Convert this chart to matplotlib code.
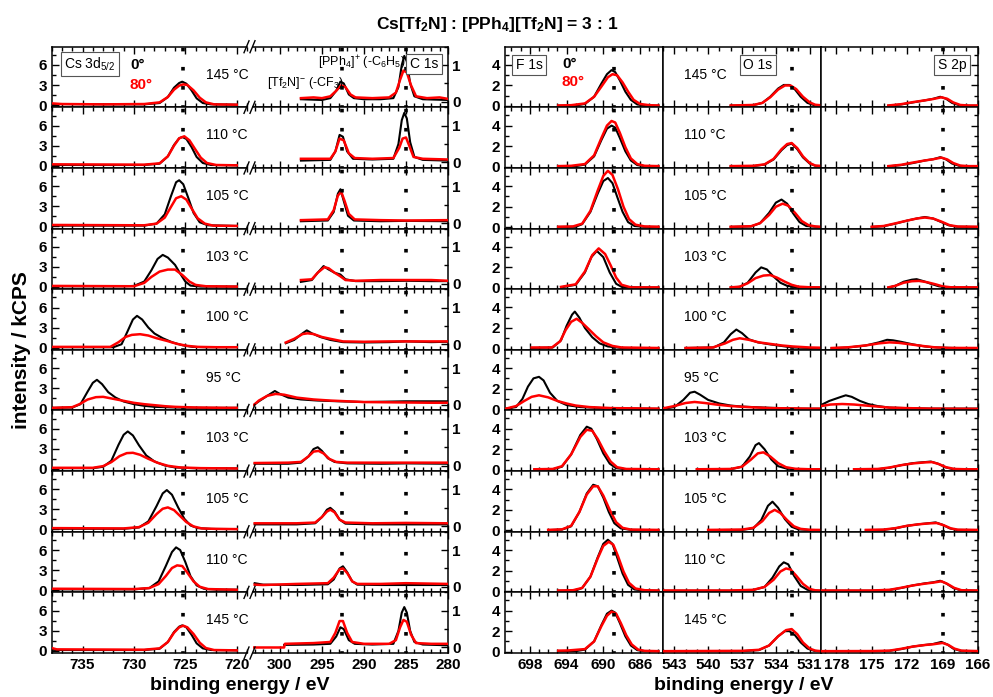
import matplotlib
matplotlib.use('Agg')
import matplotlib.pyplot as plt
from matplotlib.lines import Line2D
from matplotlib.ticker import MultipleLocator, FixedLocator

plt.rcParams['font.family'] = ['Liberation Sans', 'DejaVu Sans']
plt.rcParams['mathtext.fontset'] = 'custom'
plt.rcParams['mathtext.rm'] = 'Liberation Sans'
plt.rcParams['mathtext.it'] = 'Liberation Sans:italic'
plt.rcParams['mathtext.bf'] = 'Liberation Sans:bold'

# ---------------- data ----------------
TEMPS = ['145 °C', '110 °C', '105 °C', '103 °C', '100 °C', '95 °C',
         '103 °C', '105 °C', '110 °C', '145 °C']

REF_CS = [725.2]
REF_C = [292.6, 285.0]
REF_F = [688.8]
REF_O = [532.6]
REF_S = [169.0]

# Cs 3d5/2, 0 deg (black) and 80 deg (red): (binding energy, kCPS)
CS_0 = [
    [(738,0.15),(733,0.1),(729,0.1),(727.5,0.3),(726.7,1.2),(726.1,2.6),(725.6,3.3),(725.3,3.5),(724.9,3.2),(724.4,2.2),(723.9,1.0),(723.3,0.3),(722.5,0.1),(720,0.05)],
    [(738,0.1),(729,0.1),(727.5,0.3),(726.7,1.4),(726.1,3.1),(725.6,4.1),(725.3,4.3),(724.9,4.0),(724.4,2.8),(723.9,1.3),(723.3,0.4),(722.5,0.1),(720,0.05)],
    [(738,0.1),(729,0.1),(727.8,0.4),(727,1.8),(726.4,4.5),(725.9,6.6),(725.6,6.9),(725.2,6.3),(724.7,4.2),(724.2,2.0),(723.6,0.6),(722.8,0.15),(720,0.05)],
    [(738,0.1),(731,0.1),(730,0.15),(729,0.8),(728.3,2.5),(727.7,4.2),(727.2,4.8),(726.7,4.4),(726,3.3),(725.5,2.0),(725,0.8),(724.5,0.2),(723.5,0.05),(720,0.05)],
    [(738,0.05),(732,0.05),(731.2,0.5),(730.6,2.5),(730.1,4.2),(729.7,4.75),(729.2,4.2),(728.6,3.0),(728,2.1),(727.2,1.4),(726.3,0.8),(725.3,0.35),(724.3,0.1),(723,0.05),(720,0.05)],
    [(737.9,0.05),(736,0.1),(735.2,0.6),(734.5,2.5),(734,3.8),(733.6,4.25),(733.1,3.6),(732.5,2.4),(731.8,1.6),(731,1.0),(730,0.6),(729,0.35),(728,0.2),(726,0.1),(723,0.05),(720,0.05)],
    [(738,0.1),(734,0.1),(733,0.3),(732.2,1.2),(731.5,3.6),(731,5.1),(730.6,5.6),(730.1,5.0),(729.5,3.5),(728.8,2.0),(728,1.1),(727,0.5),(726,0.2),(724,0.08),(720,0.05)],
    [(738,0.1),(731,0.1),(729.5,0.3),(728.6,1.2),(727.8,3.5),(727.2,5.4),(726.8,5.9),(726.3,5.2),(725.7,3.3),(725.1,1.6),(724.5,0.6),(723.8,0.2),(722.5,0.08),(720,0.05)],
    [(738,0.1),(730,0.1),(728.5,0.3),(727.6,1.3),(726.9,3.6),(726.3,5.7),(725.9,6.4),(725.5,6.0),(725,4.2),(724.5,2.1),(723.9,0.7),(723.2,0.2),(722,0.07),(720,0.05)],
    [(738,0.15),(737.5,0.1),(729,0.1),(727.5,0.3),(726.7,1.3),(726.1,2.8),(725.6,3.6),(725.3,3.8),(724.9,3.5),(724.4,2.4),(723.9,1.1),(723.3,0.35),(722.5,0.1),(720,0.05)],
]
CS_80 = [
    [(738,0.25),(737,0.15),(733,0.1),(729,0.15),(727.5,0.4),(726.7,1.2),(726.1,2.3),(725.6,2.9),(725.2,3.1),(724.8,3.0),(724.2,2.2),(723.6,1.1),(723,0.4),(722.2,0.1),(720,0.05)],
    [(738,0.2),(729,0.15),(727.5,0.35),(726.7,1.4),(726.1,3.0),(725.6,4.1),(725.1,4.4),(724.6,3.8),(724.1,2.6),(723.5,1.2),(722.9,0.4),(722,0.1),(720,0.05)],
    [(738,0.2),(729,0.15),(727.8,0.4),(727,1.3),(726.4,2.9),(725.9,4.2),(725.4,4.5),(724.9,4.0),(724.4,2.7),(723.8,1.2),(723.1,0.4),(722.3,0.1),(720,0.05)],
    [(738,0.15),(730,0.1),(729,0.6),(728.3,1.5),(727.5,2.3),(726.7,2.6),(726,2.6),(725.3,1.8),(724.6,0.8),(724,0.3),(723,0.1),(720,0.05)],
    [(738,0.1),(732.3,0.1),(731.5,0.8),(730.8,1.6),(730.2,1.9),(729.4,2.0),(728.6,1.8),(727.8,1.4),(726.8,1.0),(725.8,0.55),(724.8,0.25),(723.8,0.1),(722,0.05),(720,0.05)],
    [(737.9,0.05),(736,0.15),(735.3,0.6),(734.5,1.3),(733.7,1.65),(733,1.7),(732,1.4),(731,1.1),(730,0.8),(729,0.6),(728,0.45),(727,0.3),(726,0.2),(724,0.1),(721,0.05),(720,0.05)],
    [(738,0.15),(734,0.15),(733,0.4),(732.2,1.0),(731.4,1.9),(730.7,2.35),(730.1,2.4),(729.4,2.1),(728.6,1.5),(727.7,0.9),(726.7,0.45),(725.5,0.2),(723.5,0.1),(720,0.05)],
    [(738,0.2),(731,0.15),(729.5,0.35),(728.6,1.0),(727.8,2.3),(727.2,3.1),(726.7,3.3),(726.1,2.9),(725.5,2.0),(724.9,1.1),(724.2,0.45),(723.4,0.15),(722,0.08),(720,0.05)],
    [(738,0.2),(730,0.15),(728.5,0.3),(727.6,0.9),(726.9,2.1),(726.3,3.3),(725.8,3.7),(725.3,3.6),(724.8,2.6),(724.2,1.3),(723.6,0.5),(722.8,0.15),(720,0.05)],
    [(738,0.4),(737.5,0.2),(729,0.15),(727.5,0.35),(726.7,1.3),(726.1,2.7),(725.6,3.5),(725.2,3.75),(724.8,3.5),(724.2,2.5),(723.6,1.2),(723,0.4),(722.2,0.1),(720,0.05)],
]

# C 1s
C_0 = [
    [(297.5,0.07),(295,0.05),(294,0.1),(293.3,0.3),(292.8,0.55),(292.4,0.5),(291.8,0.2),(291.2,0.1),(290,0.07),(288,0.07),(286.5,0.1),(285.9,0.4),(285.5,1.0),(285.2,1.25),(284.9,1.1),(284.5,0.5),(284,0.15),(283,0.07),(280,0.05)],
    [(297.5,0.05),(294,0.07),(293.4,0.3),(292.9,0.75),(292.5,0.7),(292.0,0.3),(291.3,0.1),(289,0.08),(286.5,0.1),(285.9,0.5),(285.5,1.15),(285.2,1.35),(284.9,1.2),(284.5,0.55),(284,0.15),(283,0.07),(280,0.05)],
    [(297.5,0.05),(294.3,0.07),(293.6,0.3),(293.1,0.8),(292.8,0.92),(292.4,0.6),(291.9,0.2),(291.2,0.07),(288,0.05),(285,0.06),(280,0.05)],
    [(297.5,0.05),(296.2,0.1),(295.5,0.3),(294.8,0.48),(294.3,0.4),(293.5,0.3),(292.8,0.25),(292.2,0.12),(291,0.07),(288,0.07),(285,0.08),(282,0.07),(280,0.07)],
    [(299.3,0.03),(298.3,0.12),(297.3,0.3),(296.8,0.38),(296.2,0.3),(295.2,0.2),(294,0.12),(292.5,0.06),(290,0.05),(287,0.06),(285,0.08),(282,0.06),(280,0.07)],
    [(303.1,0.0),(302.5,0.1),(301.5,0.25),(300.6,0.38),(300,0.3),(299,0.2),(297.5,0.15),(295.5,0.12),(293,0.1),(290,0.08),(285,0.1),(282,0.1),(280,0.1)],
    [(303,0.05),(299,0.05),(297.5,0.08),(296.6,0.25),(296,0.45),(295.5,0.5),(295,0.4),(294.3,0.2),(293.5,0.1),(292,0.06),(288,0.05),(285,0.06),(280,0.05)],
    [(303,0.05),(298,0.05),(295.8,0.08),(295,0.25),(294.4,0.45),(294,0.5),(293.5,0.4),(292.9,0.18),(292.2,0.07),(289,0.05),(285,0.05),(280,0.05)],
    [(303,0.1),(302,0.06),(298,0.05),(294.3,0.07),(293.6,0.2),(292.9,0.5),(292.5,0.56),(292.0,0.4),(291.4,0.15),(290.8,0.06),(288,0.05),(285,0.05),(280,0.05)],
    [(299.5,0.07),(296,0.08),(294,0.1),(293.3,0.3),(292.8,0.55),(292.4,0.5),(291.8,0.2),(291.1,0.1),(289,0.08),(286.5,0.1),(285.9,0.45),(285.5,0.95),(285.2,1.1),(284.9,0.95),(284.5,0.45),(284,0.15),(283,0.08),(280,0.06)],
]
C_80 = [
    [(297.5,0.1),(296,0.12),(295,0.1),(294,0.15),(293.3,0.3),(292.7,0.45),(292.2,0.4),(291.6,0.2),(291,0.12),(289,0.1),(287,0.12),(286.2,0.25),(285.7,0.6),(285.3,0.85),(284.9,0.8),(284.4,0.45),(283.8,0.15),(282.5,0.1),(281,0.12),(280,0.08)],
    [(297.5,0.1),(294,0.1),(293.4,0.3),(292.9,0.65),(292.4,0.6),(291.8,0.25),(291.1,0.12),(289,0.1),(286.5,0.12),(285.8,0.4),(285.4,0.65),(285,0.68),(284.6,0.45),(284.1,0.15),(283,0.1),(280,0.08)],
    [(297.5,0.08),(294.3,0.1),(293.6,0.35),(293.1,0.75),(292.7,0.85),(292.3,0.6),(291.8,0.25),(291.1,0.1),(288,0.08),(285,0.07),(280,0.08)],
    [(297.5,0.1),(296.2,0.12),(295.5,0.3),(294.7,0.45),(294.2,0.42),(293.5,0.3),(292.8,0.2),(292.2,0.1),(291,0.08),(288,0.1),(285,0.1),(282,0.1),(280,0.08)],
    [(299.3,0.05),(298.3,0.15),(297.3,0.28),(296.7,0.3),(296,0.28),(295,0.2),(294,0.15),(292.5,0.08),(290,0.07),(287,0.08),(285,0.08),(282,0.08),(280,0.08)],
    [(303.1,0.0),(302.5,0.12),(301.5,0.25),(300.5,0.3),(299.5,0.28),(298,0.2),(296,0.15),(294,0.12),(292,0.1),(290,0.08),(286,0.07),(282,0.06),(280,0.06)],
    [(303,0.07),(299,0.08),(297.5,0.1),(296.6,0.25),(296,0.38),(295.4,0.4),(294.8,0.33),(294.1,0.18),(293.3,0.1),(292,0.08),(288,0.08),(285,0.08),(280,0.08)],
    [(303,0.08),(298,0.08),(295.8,0.1),(295,0.25),(294.4,0.4),(294,0.45),(293.5,0.38),(292.9,0.18),(292.2,0.1),(289,0.08),(285,0.09),(280,0.08)],
    [(303,0.06),(302,0.05),(298,0.08),(294.3,0.1),(293.6,0.25),(292.9,0.48),(292.5,0.5),(292.0,0.38),(291.4,0.15),(290.8,0.08),(288,0.08),(285,0.1),(280,0.08)],
    [(303.1,0.0),(299.5,0.0),(299.4,0.1),(296,0.12),(294,0.15),(293.4,0.4),(292.9,0.72),(292.5,0.72),(292.0,0.4),(291.4,0.15),(290,0.1),(287,0.1),(286.2,0.2),(285.7,0.55),(285.3,0.75),(284.9,0.7),(284.4,0.35),(283.8,0.12),(282,0.1),(280,0.1)],
]

# F 1s
F_0 = [
    [(694.9,0.03),(693,0.05),(692,0.2),(691,0.9),(690.2,2.2),(689.6,3.1),(689.1,3.5),(688.7,3.3),(688.2,2.5),(687.6,1.4),(687,0.6),(686.3,0.15),(685.5,0.05),(684,0.03)],
    [(694.9,0.03),(693,0.05),(692,0.2),(691,1.0),(690.2,2.6),(689.6,3.7),(689.1,4.0),(688.7,3.8),(688.2,2.8),(687.6,1.5),(687,0.6),(686.3,0.15),(685.5,0.05),(684,0.03)],
    [(694.9,0.03),(693,0.05),(692.3,0.3),(691.4,1.5),(690.6,3.3),(690,4.5),(689.5,4.8),(689,4.3),(688.5,3.0),(687.9,1.5),(687.3,0.5),(686.6,0.12),(685.5,0.04),(684,0.03)],
    [(694.6,0.05),(693,0.3),(692,1.5),(691.3,3.0),(690.7,3.6),(690,3.0),(689.3,1.5),(688.6,0.4),(688,0.1),(686,0.05),(684,0.03)],
    [(697.8,0.05),(695.5,0.1),(694.6,0.8),(694,2.2),(693.4,3.3),(693.1,3.6),(692.6,3.0),(692,2.0),(691.2,1.1),(690.4,0.5),(689.5,0.2),(688,0.05),(684,0.03)],
    [(700.6,0.05),(699.5,0.2),(698.8,1.0),(698.2,2.2),(697.6,3.0),(697,3.15),(696.5,2.8),(695.8,1.6),(695,0.8),(694,0.4),(692.5,0.2),(690,0.1),(686,0.05),(684,0.03)],
    [(697.5,0.03),(695.5,0.05),(694.5,0.3),(693.5,1.5),(692.5,3.4),(691.8,4.2),(691.3,4.0),(690.7,3.0),(690,1.6),(689.3,0.6),(688.6,0.15),(687.5,0.05),(684,0.03)],
    [(696,0.03),(694.5,0.08),(693.5,0.4),(692.6,1.8),(691.8,3.6),(691.1,4.45),(690.6,4.3),(690,3.2),(689.4,1.8),(688.8,0.7),(688.1,0.2),(687,0.05),(684,0.03)],
    [(694.9,0.03),(693,0.05),(692.3,0.3),(691.4,1.4),(690.6,3.3),(690,4.6),(689.5,5.0),(689,4.6),(688.5,3.3),(687.9,1.7),(687.3,0.6),(686.6,0.15),(685.5,0.04),(684,0.03)],
    [(694.9,0.03),(693,0.05),(692,0.2),(691,1.0),(690.2,2.6),(689.6,3.7),(689.1,4.0),(688.7,3.8),(688.2,2.8),(687.6,1.5),(687,0.6),(686.3,0.15),(685.5,0.05),(684,0.03)],
]
F_80 = [
    [(694.9,0.05),(693.5,0.08),(692,0.25),(691,0.9),(690.2,1.9),(689.5,2.8),(689,3.1),(688.5,3.0),(687.9,2.3),(687.3,1.4),(686.7,0.6),(686,0.2),(685,0.08),(684,0.05)],
    [(694.9,0.05),(693.5,0.08),(692,0.25),(691,1.1),(690.2,2.8),(689.6,4.0),(689.1,4.45),(688.7,4.3),(688.2,3.3),(687.6,1.9),(687,0.8),(686.3,0.25),(685.5,0.08),(684,0.05)],
    [(694.9,0.05),(693.3,0.08),(692.3,0.35),(691.4,1.6),(690.6,3.6),(690,5.0),(689.5,5.5),(689,5.1),(688.4,3.7),(687.8,2.0),(687.2,0.8),(686.5,0.25),(685.5,0.08),(684,0.05)],
    [(694.6,0.1),(693,0.35),(692,1.6),(691.2,3.2),(690.5,3.85),(689.8,3.3),(689.2,2.2),(688.6,1.0),(688,0.3),(687,0.05),(684,0.05)],
    [(697.8,0.1),(695.6,0.1),(694.7,0.7),(694.1,1.8),(693.5,2.6),(692.9,2.9),(692.3,2.5),(691.6,1.9),(690.8,1.2),(690,0.6),(689,0.25),(688,0.1),(684,0.05)],
    [(700.6,0.05),(699.5,0.3),(698.6,0.8),(697.8,1.2),(697,1.35),(696,1.15),(695,0.8),(694,0.55),(693,0.35),(691.5,0.2),(689,0.1),(684,0.05)],
    [(697.5,0.05),(695.5,0.08),(694.5,0.35),(693.5,1.5),(692.5,3.2),(691.8,3.9),(691.2,3.8),(690.6,3.0),(689.9,1.8),(689.2,0.8),(688.5,0.25),(687.5,0.08),(684,0.05)],
    [(696,0.05),(694.5,0.1),(693.5,0.45),(692.6,1.8),(691.8,3.5),(691.1,4.3),(690.6,4.3),(690,3.4),(689.3,2.0),(688.6,0.8),(687.9,0.25),(687,0.08),(684,0.05)],
    [(694.9,0.05),(693.3,0.08),(692.3,0.3),(691.4,1.4),(690.6,3.2),(690,4.4),(689.4,4.8),(688.9,4.5),(688.4,3.4),(687.8,1.9),(687.2,0.8),(686.5,0.25),(685.5,0.08),(684,0.05)],
    [(694.9,0.1),(693.8,0.12),(692,0.25),(691,1.0),(690.2,2.5),(689.6,3.5),(689.1,3.9),(688.6,3.7),(688.1,2.8),(687.5,1.6),(686.9,0.7),(686.2,0.2),(685.5,0.08),(684,0.05)],
]

# O 1s
O_0 = [
    [(538,0.03),(536,0.08),(535.2,0.3),(534.5,0.9),(533.8,1.7),(533.3,2.05),(532.8,2.05),(532.3,1.6),(531.8,0.9),(531.2,0.3),(530.6,0.08),(530.1,0.05)],
    [(538,0.03),(536,0.05),(535,0.2),(534.2,0.7),(533.5,1.6),(533,2.1),(532.6,2.25),(532.1,1.7),(531.6,0.9),(531,0.3),(530.5,0.08),(530.1,0.05)],
    [(538,0.03),(536.2,0.08),(535.4,0.4),(534.6,1.4),(534,2.4),(533.5,2.7),(533,2.3),(532.5,1.4),(531.9,0.5),(531.3,0.12),(530.5,0.05),(530.1,0.03)],
    [(538,0.03),(537.2,0.1),(536.5,0.5),(535.8,1.5),(535.3,2.0),(534.8,1.8),(534.2,1.1),(533.6,0.5),(533,0.2),(532.2,0.07),(531,0.04),(530.1,0.03)],
    [(542,0.05),(539.5,0.1),(538.6,0.6),(538,1.4),(537.5,1.85),(537,1.5),(536.4,0.9),(535.6,0.6),(534.5,0.4),(533.5,0.25),(532.5,0.1),(531,0.05),(530.1,0.04)],
    [(543.9,0.05),(543,0.2),(542.2,0.9),(541.6,1.6),(541.2,1.7),(540.7,1.4),(540,0.9),(539,0.55),(538,0.35),(537,0.25),(535,0.15),(532,0.05),(530.1,0.04)],
    [(541,0.03),(538,0.05),(537,0.3),(536.3,1.3),(535.8,2.4),(535.5,2.6),(535,2.0),(534.4,1.0),(533.8,0.35),(533,0.1),(531.5,0.04),(530.1,0.03)],
    [(540,0.03),(537,0.05),(536,0.2),(535.3,1.0),(534.7,2.4),(534.3,2.8),(533.8,2.2),(533.2,1.1),(532.6,0.35),(532,0.1),(531,0.04),(530.1,0.03)],
    [(543.9,0.03),(538,0.03),(536,0.1),(535,0.4),(534.3,1.3),(533.7,2.4),(533.3,2.8),(532.9,2.6),(532.4,1.5),(531.8,0.5),(531.2,0.12),(530.5,0.04),(530.1,0.03)],
    [(543.9,0.03),(537,0.05),(535.5,0.15),(534.6,0.6),(533.8,1.5),(533.2,2.0),(532.8,2.0),(532.3,1.6),(531.8,0.9),(531.2,0.3),(530.6,0.08),(530.1,0.04)],
]
O_80 = [
    [(538,0.05),(536,0.1),(535.2,0.3),(534.5,0.85),(533.8,1.6),(533.2,2.0),(532.7,2.0),(532.2,1.65),(531.6,0.9),(531,0.35),(530.5,0.12),(530.1,0.08)],
    [(538,0.05),(536,0.08),(535,0.22),(534.2,0.75),(533.5,1.7),(533,2.2),(532.6,2.3),(532.1,1.8),(531.6,1.0),(531,0.35),(530.5,0.1),(530.1,0.08)],
    [(538,0.05),(536.2,0.1),(535.4,0.4),(534.6,1.2),(534,2.0),(533.4,2.3),(532.9,2.1),(532.3,1.4),(531.7,0.6),(531.1,0.2),(530.5,0.08),(530.1,0.05)],
    [(538,0.05),(537.2,0.12),(536.5,0.45),(535.8,0.95),(535.1,1.2),(534.5,1.25),(533.9,1.0),(533.2,0.6),(532.6,0.3),(532,0.12),(531,0.06),(530.1,0.05)],
    [(542,0.05),(539.6,0.1),(538.5,0.5),(537.8,0.85),(537.2,1.0),(536.4,0.85),(535.5,0.6),(534.5,0.45),(533.5,0.3),(532.5,0.2),(531,0.1),(530.1,0.08)],
    [(543.9,0.1),(543,0.3),(542,0.6),(541.2,0.7),(540.3,0.6),(539.3,0.45),(538,0.3),(536.5,0.2),(534.5,0.1),(531,0.05),(530.1,0.05)],
    [(541,0.05),(538,0.08),(537,0.3),(536.2,1.0),(535.6,1.6),(535.1,1.7),(534.5,1.3),(533.8,0.65),(533.1,0.25),(532.3,0.1),(531,0.05),(530.1,0.05)],
    [(540,0.05),(537,0.08),(536,0.25),(535.2,0.9),(534.6,1.7),(534.1,2.0),(533.6,1.7),(533,1.0),(532.4,0.4),(531.8,0.15),(531,0.06),(530.1,0.05)],
    [(543.9,0.05),(538,0.05),(536,0.12),(535,0.4),(534.2,1.1),(533.6,1.9),(533.1,2.2),(532.7,2.1),(532.2,1.5),(531.6,0.7),(531,0.2),(530.5,0.07),(530.1,0.05)],
    [(543.9,0.05),(537,0.08),(535.5,0.18),(534.6,0.6),(533.8,1.5),(533.1,2.1),(532.6,2.2),(532.1,1.7),(531.6,0.9),(531,0.3),(530.5,0.1),(530.1,0.06)],
]

# S 2p
S_0 = [
    [(173.6,0.03),(172.5,0.15),(171.5,0.35),(170.5,0.55),(169.8,0.7),(169.2,0.9),(168.7,0.7),(168.2,0.3),(167.6,0.08),(167,0.03),(166,0.03)],
    [(173.6,0.03),(172.5,0.15),(171.5,0.35),(170.5,0.6),(169.8,0.72),(169.2,0.92),(168.7,0.7),(168.2,0.3),(167.6,0.08),(167,0.03),(166,0.03)],
    [(175,0.03),(174,0.1),(173,0.35),(172,0.65),(171.2,0.85),(170.5,1.0),(169.8,0.85),(169.2,0.55),(168.5,0.2),(167.8,0.05),(166,0.03)],
    [(173.6,0.03),(173,0.2),(172.3,0.6),(171.6,0.8),(171.2,0.85),(170.6,0.65),(170,0.4),(169.3,0.15),(168.6,0.05),(166,0.03)],
    [(178.4,0.03),(177,0.1),(175.5,0.3),(174.4,0.6),(173.7,0.85),(173.2,0.8),(172.5,0.65),(171.5,0.4),(170.5,0.2),(169.5,0.1),(168,0.05),(166,0.03)],
    [(179.3,0.4),(178.6,0.8),(178.1,1.0),(177.6,1.2),(177.2,1.35),(176.7,1.2),(176,0.8),(175.3,0.5),(174.5,0.3),(173.5,0.15),(172,0.1),(170,0.05),(166,0.05)],
    [(176.5,0.03),(174.5,0.05),(173.5,0.2),(172.5,0.45),(171.5,0.65),(170.5,0.75),(170,0.8),(169.4,0.6),(168.8,0.25),(168.2,0.08),(167,0.03),(166,0.03)],
    [(175.5,0.03),(174,0.05),(173,0.2),(172,0.45),(171,0.6),(170.2,0.7),(169.6,0.78),(169,0.55),(168.4,0.2),(167.8,0.05),(166,0.03)],
    [(179.3,0.03),(175,0.03),(173.5,0.1),(172.5,0.3),(171.5,0.55),(170.5,0.75),(169.8,0.85),(169.2,1.0),(168.7,0.75),(168.1,0.3),(167.5,0.08),(166,0.03)],
    [(179.3,0.03),(175,0.03),(173.5,0.08),(172.5,0.25),(171.5,0.5),(170.5,0.65),(169.8,0.75),(169.1,0.95),(168.6,0.7),(168.1,0.3),(167.5,0.08),(166,0.03)],
]
S_80 = [
    [(173.6,0.05),(172.5,0.18),(171.5,0.38),(170.5,0.55),(169.8,0.68),(169.1,0.85),(168.6,0.7),(168.1,0.35),(167.5,0.1),(166.8,0.05),(166,0.05)],
    [(173.6,0.05),(172.5,0.18),(171.5,0.4),(170.5,0.6),(169.8,0.72),(169.1,0.88),(168.6,0.7),(168.1,0.35),(167.5,0.1),(166.8,0.05),(166,0.05)],
    [(175,0.05),(174,0.12),(173,0.38),(172,0.65),(171.2,0.85),(170.5,0.95),(169.8,0.85),(169.1,0.55),(168.4,0.2),(167.7,0.07),(166,0.05)],
    [(173.6,0.05),(173,0.2),(172.3,0.5),(171.6,0.65),(171,0.68),(170.3,0.55),(169.6,0.35),(169,0.15),(168.3,0.06),(166,0.05)],
    [(178.4,0.05),(177,0.12),(175.5,0.3),(174.4,0.5),(173.5,0.6),(172.7,0.55),(171.7,0.4),(170.7,0.25),(169.7,0.12),(168.5,0.06),(166,0.05)],
    [(179.3,0.3),(178.5,0.45),(177.5,0.5),(176.5,0.45),(175.5,0.35),(174.5,0.25),(173.5,0.15),(172,0.1),(170,0.05),(166,0.03)],
    [(176.5,0.05),(174.5,0.08),(173.5,0.22),(172.5,0.45),(171.5,0.62),(170.5,0.72),(169.9,0.75),(169.3,0.55),(168.7,0.25),(168,0.08),(167,0.05),(166,0.05)],
    [(175.5,0.05),(174,0.08),(173,0.22),(172,0.45),(171,0.6),(170.2,0.68),(169.5,0.72),(168.9,0.5),(168.3,0.2),(167.7,0.07),(166,0.05)],
    [(179.3,0.05),(175,0.05),(173.5,0.12),(172.5,0.32),(171.5,0.55),(170.5,0.72),(169.8,0.82),(169.1,0.95),(168.6,0.7),(168,0.3),(167.4,0.08),(166,0.05)],
    [(179.3,0.05),(175,0.06),(173.5,0.1),(172.5,0.28),(171.5,0.5),(170.5,0.65),(169.8,0.72),(169,0.85),(168.5,0.65),(168,0.3),(167.4,0.1),(166,0.06)],
]

# ---------------- layout ----------------
W, H = 993, 697
fig = plt.figure(figsize=(W / 100, H / 100), dpi=100)

def fx(px):
    return px / W

def fy(py):
    return 1 - py / H

TOP, BOT = 46.7, 653.0
NR = 10
RH = (BOT - TOP) / NR

PANELS = {
    'Cs': dict(x0=51.7, x1=247.0, xlim=(738.0, 719.0)),
    'C':  dict(x0=253.0, x1=448.0, xlim=(303.2, 280.0)),
    'F':  dict(x0=505.0, x1=663.0, xlim=(700.7, 683.5)),
    'O':  dict(x0=663.0, x1=821.0, xlim=(544.0, 530.0)),
    'S':  dict(x0=821.0, x1=978.0, xlim=(179.3, 166.0)),
}
YLIM = {'Cs': (-0.345, 8.74), 'C': (-0.15, 1.5), 'F': (-0.13, 5.78),
        'O': (-0.13, 5.78), 'S': (-0.13, 5.78)}
DATA = {'Cs': (CS_0, CS_80, REF_CS), 'C': (C_0, C_80, REF_C),
        'F': (F_0, F_80, REF_F), 'O': (O_0, O_80, REF_O), 'S': (S_0, S_80, REF_S)}

TICK_FS = 11
SPINE_LW = 1.1


def bold_ticks(ax):
    for lab in ax.get_xticklabels() + ax.get_yticklabels():
        lab.set_fontweight('bold')


for i in range(NR):
    ytop = TOP + i * RH
    for key, p in PANELS.items():
        ax = fig.add_axes([fx(p['x0']), fy(ytop + RH), (p['x1'] - p['x0']) / W, RH / H])
        ax.set_xlim(*p['xlim'])
        ax.set_ylim(*YLIM[key])
        for s in ax.spines.values():
            s.set_linewidth(SPINE_LW)
        d0, d80, refs = DATA[key]
        ax.plot([q[0] for q in d0[i]], [q[1] for q in d0[i]], color='black', lw=1.5,
                zorder=3, solid_joinstyle='round')
        ax.plot([q[0] for q in d80[i]], [q[1] for q in d80[i]], color='#ff0000', lw=1.8,
                zorder=4, solid_joinstyle='round')
        for r in refs:
            ax.axvline(r, color='black', lw=2.6, ls=(0.5, (1, 4.3)), zorder=6)

        # x ticks
        if key in ('Cs', 'C'):
            ax.xaxis.set_major_locator(MultipleLocator(5))
        elif key == 'F':
            ax.xaxis.set_major_locator(FixedLocator([698, 694, 690, 686]))
        elif key == 'O':
            ax.xaxis.set_major_locator(FixedLocator([543, 540, 537, 534, 531]))
        else:
            ax.xaxis.set_major_locator(FixedLocator([178, 175, 172, 169, 166]))
        ax.xaxis.set_minor_locator(MultipleLocator(1))
        ax.tick_params(axis='x', which='both', direction='in', top=True, bottom=True,
                       labelbottom=(i == NR - 1), labelsize=TICK_FS, pad=3.5)
        ax.tick_params(axis='x', which='major', length=5, width=1)
        ax.tick_params(axis='x', which='minor', length=3, width=1)

        # y ticks
        if key == 'Cs':
            ax.yaxis.set_major_locator(MultipleLocator(3))
            ax.yaxis.set_minor_locator(MultipleLocator(1.5))
            ax.tick_params(axis='y', which='both', direction='in', left=True, right=False,
                           labelleft=True, labelsize=TICK_FS, pad=3.5)
            ax.spines['right'].set_visible(False)
        elif key == 'C':
            ax.yaxis.set_major_locator(MultipleLocator(1))
            ax.yaxis.set_minor_locator(MultipleLocator(0.5))
            ax.tick_params(axis='y', which='both', direction='in', left=False, right=True,
                           labelleft=False, labelright=True, labelsize=TICK_FS, pad=3)
            ax.spines['left'].set_visible(False)
        else:
            ax.yaxis.set_major_locator(MultipleLocator(2))
            ax.yaxis.set_minor_locator(MultipleLocator(1))
            if key == 'F':
                ax.tick_params(axis='y', which='both', direction='in', left=True, right=False,
                               labelleft=True, labelsize=TICK_FS, pad=3.5)
            elif key == 'O':
                ax.tick_params(axis='y', which='both', left=False, right=False, labelleft=False)
            else:
                ax.tick_params(axis='y', which='both', direction='in', left=False, right=True,
                               labelleft=False, labelright=False)
        ax.tick_params(axis='y', which='major', length=5, width=1)
        ax.tick_params(axis='y', which='minor', length=3, width=1)
        bold_ticks(ax)

    # temperature labels
    fig.text(fx(206), fy(ytop + 28), TEMPS[i], ha='left', va='center', fontsize=10)
    fig.text(fx(684), fy(ytop + 28), TEMPS[i], ha='left', va='center', fontsize=10)

# axis break marks
for k in range(NR + 1):
    yb = TOP + k * RH
    for dx in (0, 6):
        fig.add_artist(Line2D([fx(244 + dx), fx(249 + dx)], [fy(yb + 6), fy(yb - 6)],
                              color='black', lw=1.0, transform=fig.transFigure))

# annotations
box = dict(boxstyle='square,pad=0.25', fc='white', ec='#555555', lw=0.8)
fig.text(fx(90), fy(64), r'Cs 3d$_{\mathregular{5/2}}$', ha='center', va='center', fontsize=10, bbox=box)
fig.text(fx(130), fy(65), '0°', ha='left', va='center', fontsize=11, fontweight='bold', color='black')
fig.text(fx(130), fy(85), '80°', ha='left', va='center', fontsize=11, fontweight='bold', color='#ff0000')
fig.text(fx(424), fy(64), 'C 1s', ha='center', va='center', fontsize=10, bbox=box)
fig.text(fx(405), fy(63), r'[PPh$_\mathregular{4}$]$^\mathregular{+}$ (-C$_\mathregular{6}$H$_\mathregular{5}$)',
         ha='right', va='center', fontsize=9)
fig.text(fx(267), fy(83), r'[Tf$_\mathregular{2}$N]$^\mathregular{-}$ (-CF$_\mathregular{3}$)',
         ha='left', va='center', fontsize=9)

fig.text(fx(529), fy(65), 'F 1s', ha='center', va='center', fontsize=10, bbox=box)
fig.text(fx(562), fy(64), '0°', ha='left', va='center', fontsize=11, fontweight='bold', color='black')
fig.text(fx(562), fy(82), '80°', ha='left', va='center', fontsize=11, fontweight='bold', color='#ff0000')
fig.text(fx(758), fy(65), 'O 1s', ha='center', va='center', fontsize=10, bbox=box)
fig.text(fx(952), fy(65), 'S 2p', ha='center', va='center', fontsize=10, bbox=box)

# title and axis labels
fig.text(fx(497), fy(25), r'Cs[Tf$_\mathbf{2}$N] : [PPh$_\mathbf{4}$][Tf$_\mathbf{2}$N] = 3 : 1',
         ha='center', va='center', fontsize=12.5, fontweight='bold')
fig.text(fx(22), fy(350), 'intensity / kCPS', rotation=90, ha='center', va='center',
         fontsize=15, fontweight='bold')
fig.text(fx(240), fy(686), 'binding energy / eV', ha='center', va='center', fontsize=14, fontweight='bold')
fig.text(fx(744), fy(686), 'binding energy / eV', ha='center', va='center', fontsize=14, fontweight='bold')

fig.savefig('out.png', dpi=100)
